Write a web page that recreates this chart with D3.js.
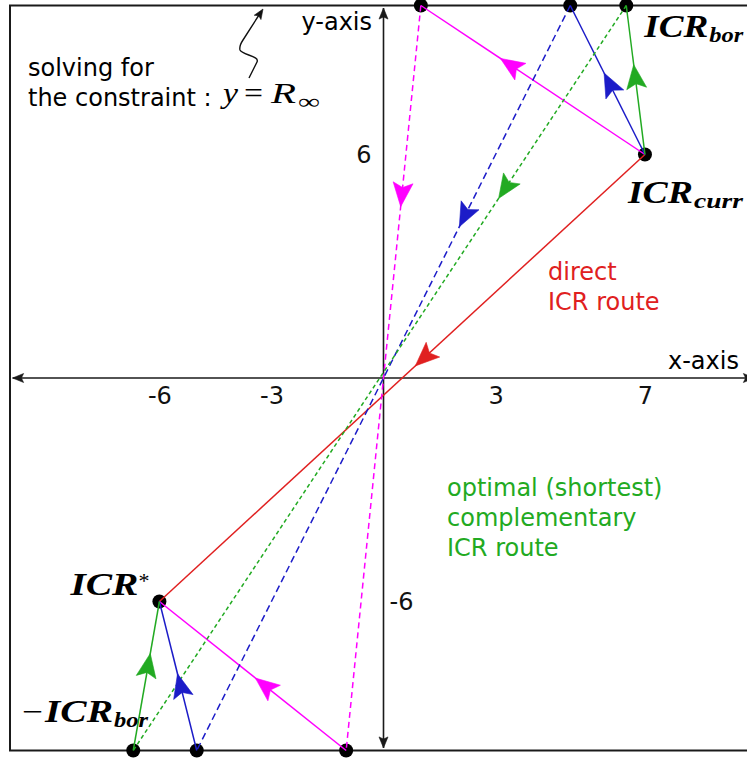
<!DOCTYPE html>
<html>
<head>
<meta charset="utf-8">
<script src="https://cdn.jsdelivr.net/npm/d3@7"></script>
<style>
  html, body { margin: 0; padding: 0; background: #fff; }
  svg { display: block; }
  .sans { font-family: "DejaVu Sans", sans-serif; font-size: 24px; }
  .math { font-family: "Liberation Serif", "DejaVu Serif", serif; }
</style>
</head>
<body>
<svg id="chart" width="747" height="758"></svg>
<script>
// Frame limit: the constraint line y = R_inf (and its mirror y = -R_inf)
const R_INF = 10;

// Tick labels shown on the two axes
const xTickValues = [-6, -3, 3, 7];
const yTickLeft = [6];
const yTickRight = [-6];

// Current ICR and the resulting ICR*
const icrCurr = [7, 6];
const icrStar = [-6, -6];

// ICR_bor candidates on y = +R_inf, and the mirrored points on y = -R_inf
const borTopX = [1, 5, 6.5];
const borBottomX = [-1, -5, -6.7];

// Route styling (magenta, blue, green complementary routes)
const routeColors = ["#ff00ff", "#1c1cc8", "#22aa22"];
const routeDash = ["6,4", "7,4", "4,3"];
// where each mid-segment arrow tip sits (fraction along its segment)
const tipUp = [0.645, 0.547, 0.603];     // ICR_curr -> ICR_bor
const tipDash = [0.27, 0.297, 0.259];    // ICR_bor -> -ICR_bor
const tipDown = [0.486, 0.515, 0.651];   // -ICR_bor -> ICR*
const tipDirect = 0.473;

const RED = "#e02020";
const GREEN = "#22aa22";

const svg = d3.select("#chart");
const x = d3.scaleLinear().domain([-R_INF, R_INF]).range([10, 757]);
const y = d3.scaleLinear().domain([-R_INF, R_INF]).range([750.5, 5.5]);
const P = d => [x(d[0]), y(d[1])];

// filled arrowhead with a slightly notched back
function arrowHead(g, tip, dir, L, W, color) {
  const [ux, uy] = dir;
  const px = -uy, py = ux;
  const bx = tip[0] - L * ux, by = tip[1] - L * uy;
  const nx = tip[0] - 0.8 * L * ux, ny = tip[1] - 0.8 * L * uy;
  g.append("path")
    .attr("d", `M${tip[0]},${tip[1]} L${bx + W * px},${by + W * py} L${nx},${ny} L${bx - W * px},${by - W * py} Z`)
    .attr("fill", color)
    .attr("stroke", color)
    .attr("stroke-width", 0.6)
    .attr("stroke-linejoin", "miter");
}
function midArrow(g, a, b, frac, color) {
  const dx = b[0] - a[0], dy = b[1] - a[1];
  const len = Math.hypot(dx, dy);
  arrowHead(g, [a[0] + frac * dx, a[1] + frac * dy], [dx / len, dy / len], 24, 10, color);
}

// frame
svg.append("rect")
  .attr("x", x(-R_INF)).attr("y", y(R_INF))
  .attr("width", x(R_INF) - x(-R_INF)).attr("height", y(-R_INF) - y(R_INF))
  .attr("fill", "none").attr("stroke", "#1a1a1a").attr("stroke-width", 2);

// axes lines with arrows at both ends
const AX = 9.93;
const axisG = svg.append("g");
axisG.append("line").attr("x1", x(-AX)).attr("x2", x(AX)).attr("y1", y(0)).attr("y2", y(0))
  .attr("stroke", "#1a1a1a").attr("stroke-width", 1.6);
axisG.append("line").attr("x1", x(0)).attr("x2", x(0)).attr("y1", y(-AX)).attr("y2", y(AX))
  .attr("stroke", "#1a1a1a").attr("stroke-width", 1.6);
arrowHead(axisG, [x(AX), y(0)], [1, 0], 11, 4.5, "#1a1a1a");
arrowHead(axisG, [x(-AX), y(0)], [-1, 0], 11, 4.5, "#1a1a1a");
arrowHead(axisG, [x(0), y(AX)], [0, -1], 11, 4.5, "#1a1a1a");
arrowHead(axisG, [x(0), y(-AX)], [0, 1], 11, 4.5, "#1a1a1a");

// tick labels through d3 axes (no tick marks, no domain path)
const fmt = d => String(d);
function styleAxis(g) {
  g.select(".domain").remove();
  g.selectAll("text").attr("font-family", "DejaVu Sans, sans-serif").attr("font-size", 24).attr("fill", "#111");
}
svg.append("g").attr("transform", `translate(0,${y(0)})`)
  .call(d3.axisBottom(x).tickValues(xTickValues).tickSize(0).tickPadding(9).tickFormat(fmt))
  .call(styleAxis);
svg.append("g").attr("transform", `translate(${x(0)},0)`)
  .call(d3.axisLeft(y).tickValues(yTickLeft).tickSize(0).tickPadding(12).tickFormat(fmt))
  .call(styleAxis);
svg.append("g").attr("transform", `translate(${x(0)},0)`)
  .call(d3.axisRight(y).tickValues(yTickRight).tickSize(0).tickPadding(6).tickFormat(fmt))
  .call(styleAxis);

// axis names
svg.append("text").attr("class", "sans").attr("x", x(0) - 82).attr("y", 30).text("y-axis");
svg.append("text").attr("class", "sans").attr("x", 668).attr("y", y(0) - 9).text("x-axis");

// points
const dotsG = svg.append("g");
const allPts = [icrCurr, icrStar]
  .concat(borTopX.map(v => [v, R_INF]))
  .concat(borBottomX.map(v => [v, -R_INF]));
dotsG.selectAll("circle").data(allPts).join("circle")
  .attr("cx", d => x(d[0])).attr("cy", d => y(d[1])).attr("r", 7).attr("fill", "#000");

// routes
const routeG = svg.append("g").attr("fill", "none").attr("stroke-width", 1.5);
const arrowsG = svg.append("g");
const line = d3.line();

// direct route ICR_curr -> ICR*
routeG.append("path").attr("d", line([P(icrCurr), P(icrStar)])).attr("stroke", RED);
midArrow(arrowsG, P(icrCurr), P(icrStar), tipDirect, RED);

borTopX.forEach((tx, i) => {
  const top = P([tx, R_INF]);
  const bot = P([borBottomX[i], -R_INF]);
  const c = routeColors[i];
  routeG.append("path").attr("d", line([top, bot])).attr("stroke", c).attr("stroke-dasharray", routeDash[i]);
  routeG.append("path").attr("d", line([P(icrCurr), top])).attr("stroke", c);
  routeG.append("path").attr("d", line([bot, P(icrStar)])).attr("stroke", c);
  midArrow(arrowsG, P(icrCurr), top, tipUp[i], c);
  midArrow(arrowsG, top, bot, tipDash[i], c);
  midArrow(arrowsG, bot, P(icrStar), tipDown[i], c);
});

// math labels
function mathText(parts) {
  const g = svg.append("g").attr("class", "math");
  parts.forEach(p => {
    const t = g.append("text")
      .attr("x", p.x).attr("y", p.y)
      .attr("font-size", p.size)
      .attr("font-style", p.italic === false ? "normal" : "italic")
      .attr("font-weight", p.bold ? "bold" : "normal")
      .attr("fill", "#000")
      .text(p.t);
    if (p.w) t.attr("textLength", p.w).attr("lengthAdjust", "spacingAndGlyphs");
  });
}
const [cx, cy] = P(icrCurr);
const [sx, sy] = P(icrStar);
const gTop = P([borTopX[2], R_INF]);

mathText([
  { t: "ICR", x: gTop[0] + 18, y: 37, size: 31, bold: true, w: 64 },
  { t: "bor", x: gTop[0] + 83, y: 42, size: 22, bold: true, w: 34 }
]);
mathText([
  { t: "ICR", x: cx - 17, y: cy + 48, size: 31, bold: true, w: 65 },
  { t: "curr", x: cx + 49, y: cy + 53, size: 22, bold: true, w: 49 }
]);
mathText([
  { t: "ICR", x: sx - 89, y: sy - 7, size: 31, bold: true, w: 68 },
  { t: "*", x: sx - 21, y: sy - 14, size: 22, italic: false }
]);
mathText([
  { t: "\u2212", x: 22, y: 722, size: 31, italic: false, w: 21 },
  { t: "ICR", x: 45, y: 722, size: 31, bold: true, w: 68 },
  { t: "bor", x: 114, y: 727, size: 22, bold: true, w: 34 }
]);

// constraint note with squiggly pointer to the frame edge
svg.append("text").attr("class", "sans").attr("x", 28).attr("y", 76).text("solving for");
svg.append("text").attr("class", "sans").attr("x", 28).attr("y", 106).text("the constraint :");
mathText([
  { t: "y", x: 223, y: 103, size: 30, w: 15 },
  { t: "=", x: 244, y: 103, size: 30, italic: false, w: 19 },
  { t: "R", x: 271, y: 103, size: 30, w: 25 },
  { t: "\u221E", x: 298, y: 109, size: 22, italic: false, w: 22 }
]);
const noteG = svg.append("g");
noteG.append("path")
  .attr("d", "M249,78 L257,62 C260,56 242,55 240,50 C239,46 241,43 243,40 L259,15")
  .attr("fill", "none").attr("stroke", "#111").attr("stroke-width", 1.4);
arrowHead(noteG, [263, 9], [0.54, -0.84], 10, 4, "#111");

// route captions
const redG = svg.append("g").attr("class", "sans").attr("fill", RED);
redG.append("text").attr("x", 548).attr("y", 280).text("direct");
redG.append("text").attr("x", 548).attr("y", 310).text("ICR route");
const greenG = svg.append("g").attr("class", "sans").attr("fill", GREEN);
greenG.append("text").attr("x", 447).attr("y", 496).text("optimal (shortest)");
greenG.append("text").attr("x", 447).attr("y", 526).text("complementary");
greenG.append("text").attr("x", 447).attr("y", 556).text("ICR route");
</script>
</body>
</html>
